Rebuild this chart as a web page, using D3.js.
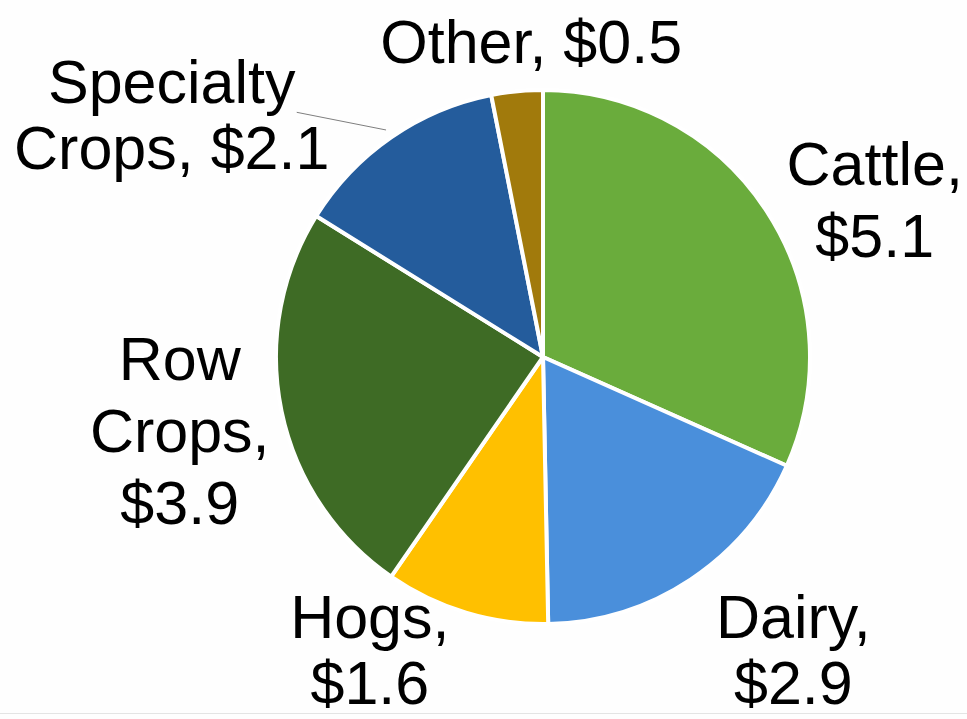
<!DOCTYPE html>
<html>
<head>
<meta charset="utf-8">
<script src="https://cdn.jsdelivr.net/npm/d3@7"></script>
<style>
  html, body { margin: 0; padding: 0; background: #fff; }
  svg { display: block; }
</style>
</head>
<body>
<div id="chart"></div>
<script>
// slices, clockwise from 12 o'clock
const categories = ['Cattle', 'Dairy', 'Hogs', 'Row Crops', 'Specialty Crops', 'Other'];
const values = [5.1, 2.9, 1.6, 3.9, 2.1, 0.5];
const colors = ['#6aac3c', '#4a8fdb', '#ffc000', '#3e6b25', '#245c9c', '#a17a0c'];
// how each label is broken into lines
const labelLines = [
  ['Cattle,', '$5.1'],
  ['Dairy,', '$2.9'],
  ['Hogs,', '$1.6'],
  ['Row', 'Crops,', '$3.9'],
  ['Specialty', 'Crops, $2.1'],
  ['Other, $0.5']
];
// nudge from the outer label arc to the first baseline
const labelNudge = [[23, 28], [47, -26], [-67, -71], [-3, -52], [-162, 49], [24, 72]];
const labelLeading = [72, 66, 66, 72, 66, 72];

const width = 967;
const height = 719;
const cx = 543, cy = 357;
const radius = 267;
const labelRadius = 368;

const data = categories.map((c, i) => ({
  name: c, value: values[i], color: colors[i],
  lines: labelLines[i], nudge: labelNudge[i], leading: labelLeading[i]
}));

const svg = d3.select('#chart').append('svg')
  .attr('width', width)
  .attr('height', height);

svg.append('rect')
  .attr('width', width)
  .attr('height', height)
  .attr('fill', '#fefefe');

svg.append('line')
  .attr('x1', 0).attr('x2', width)
  .attr('y1', 713.5).attr('y2', 713.5)
  .attr('stroke', '#e4e4e4')
  .attr('stroke-width', 1);

const g = svg.append('g')
  .attr('transform', 'translate(' + cx + ',' + cy + ')');

const pie = d3.pie()
  .sort(null)
  .value(d => d.value);

const arc = d3.arc()
  .innerRadius(0)
  .outerRadius(radius);

const arcs = pie(data);

g.selectAll('path.slice')
  .data(arcs)
  .enter().append('path')
  .attr('class', 'slice')
  .attr('d', arc)
  .attr('fill', d => d.data.color)
  .attr('stroke', '#ffffff')
  .attr('stroke-width', 4)
  .attr('stroke-linejoin', 'round');

function polar(angle, r) {
  return [Math.sin(angle) * r, -Math.cos(angle) * r];
}

g.selectAll('text.label')
  .data(arcs)
  .enter().append('text')
  .attr('class', 'label')
  .attr('text-anchor', 'middle')
  .attr('font-family', '"Liberation Sans", Arial, sans-serif')
  .attr('font-size', 61)
  .attr('fill', '#000')
  .each(function(d) {
    const mid = (d.startAngle + d.endAngle) / 2;
    const p = polar(mid, labelRadius);
    const x = p[0] + d.data.nudge[0];
    const y = p[1] + d.data.nudge[1];
    d3.select(this).selectAll('tspan')
      .data(d.data.lines)
      .enter().append('tspan')
      .attr('x', x)
      .attr('y', (t, i) => y + i * d.data.leading)
      .text(t => t);
  });

// leader line for Specialty Crops
const spec = arcs[4];
const specMid = (spec.startAngle + spec.endAngle) / 2;
const lp = polar(specMid, labelRadius);
const lineEnd = polar(specMid, radius + 9);
g.append('line')
  .attr('x1', lp[0] + spec.data.nudge[0] + 125)
  .attr('y1', lp[1] + spec.data.nudge[1] + 9)
  .attr('x2', lineEnd[0])
  .attr('y2', lineEnd[1])
  .attr('stroke', '#7f7f7f')
  .attr('stroke-width', 1);
</script>
</body>
</html>
